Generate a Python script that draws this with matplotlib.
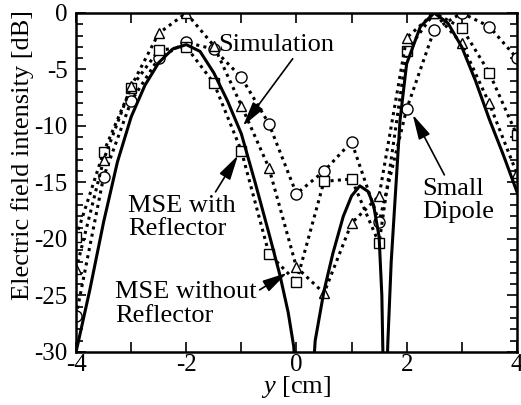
import matplotlib
matplotlib.use('Agg')
import matplotlib.pyplot as plt
import numpy as np

plt.rcParams['font.family'] = 'Liberation Serif'
plt.rcParams['axes.unicode_minus'] = False
plt.rcParams['mathtext.fontset'] = 'custom'
plt.rcParams['mathtext.it'] = 'Liberation Serif:italic'

# measured points every 0.5 cm
y_pos = [-4, -3.5, -3, -2.5, -2, -1.5, -1, -0.5, 0, 0.5, 1, 1.5, 2, 2.5, 3, 3.5, 4]
small_dipole = [-26.8, -14.5, -7.8, -4.0, -2.6, -3.2, -5.7, -9.8, -16.0, -14.0,
                -11.4, -18.5, -8.5, -1.5, 0.0, -1.2, -4.0]
mse_reflector = [-19.8, -12.3, -6.6, -3.3, -3.0, -6.2, -12.2, -21.3, -23.8, -14.9,
                 -14.7, -20.4, -3.4, 0.0, -1.3, -5.3, -10.8]
mse_no_reflector = [-22.7, -13.0, -6.5, -1.8, 0.0, -2.9, -8.2, -13.7, -22.5, -24.8,
                    -18.6, -16.2, -2.2, 0.0, -2.7, -8.0, -14.2]

# simulation curve
sim_y = [-4.0, -3.75, -3.5, -3.25, -3.0, -2.75, -2.5, -2.25, -2.0, -1.75, -1.5,
         -1.25, -1.0, -0.75, -0.5, -0.3, -0.15, -0.05, 0.1, 0.3, 0.34, 0.5, 0.66,
         0.85, 1.0, 1.15, 1.3, 1.4, 1.5, 1.55, 1.58, 1.62, 1.66, 1.72, 1.79, 1.88,
         2.0, 2.25, 2.5, 2.75, 3.0, 3.25, 3.5, 3.75, 4.0]
sim_db = [-30.0, -24.5, -18.5, -13.2, -9.2, -6.4, -4.4, -3.2, -2.8, -3.4, -5.3,
          -7.8, -10.7, -15.0, -19.5, -23.2, -26.5, -29.5, -40.0, -32.0, -29.0, -24.6, -21.3,
          -18.0, -16.2, -15.3, -15.8, -17.0, -19.8, -25.0, -33.0, -35.0, -29.0, -22.0, -16.5, -9.5,
          -4.5, -1.2, 0.0, -0.9, -3.0, -6.0, -9.4, -12.5, -15.8]

fig = plt.figure(figsize=(5.21, 4.05), dpi=100)
ax = fig.add_axes([0.146, 0.131, 0.846, 0.837])

dot = (0, (1.0, 1.4))
ax.plot(y_pos, small_dipole, linestyle=dot, lw=2.2, color='k', marker='o', ms=8,
        mfc='white', mec='k', mew=1.0)
ax.plot(y_pos, mse_reflector, linestyle=dot, lw=2.2, color='k', marker='s', ms=7,
        mfc='white', mec='k', mew=1.0)
ax.plot(y_pos, mse_no_reflector, linestyle=dot, lw=2.2, color='k', marker='^', ms=7,
        mfc='white', mec='k', mew=1.0)
ax.plot(sim_y, sim_db, '-', color='k', lw=2.2)

ax.set_xlim(-4, 4)
ax.set_ylim(-30, 0)
ax.set_xticks(np.arange(-4, 5, 1))
ax.set_xticklabels(['-4', '', '-2', '', '0', '', '2', '', '4'])
ax.set_yticks(np.arange(-30, 1, 5))
ax.set_yticks(np.arange(-30, 1, 1), minor=True)
ax.tick_params(which='both', direction='in', top=True, right=True, labelsize=18, width=1.2)
ax.tick_params(axis='x', pad=1.5)
ax.tick_params(axis='y', pad=6)
ax.tick_params(which='major', length=7)
ax.tick_params(which='minor', length=5)
for s in ax.spines.values():
    s.set_linewidth(1.8)

ax.set_xlabel('$y$ [cm]', fontsize=19)
ax.xaxis.set_label_coords(0.5, -0.065)
ax.set_ylabel('Electric field intensity [dB]', fontsize=19)
ax.yaxis.set_label_coords(-0.095, 0.58)

ap = dict(arrowstyle='-|>,head_length=0.8,head_width=0.2', color='k', lw=1.2,
          shrinkA=0, shrinkB=0)
ax.annotate('Simulation', xy=(-0.97, -10.0), xytext=(-1.42, -2.83), fontsize=19,
            ha='left', va='center', arrowprops=dict(ap, relpos=(0.66, 0.0)))
ax.annotate('MSE with\nReflector', xy=(-1.06, -12.6), xytext=(-3.06, -18.1), fontsize=19,
            ha='left', va='center', linespacing=1.1,
            arrowprops=dict(ap, relpos=(0.79, 0.97)))
ax.annotate('MSE without\nReflector', xy=(-0.17, -23.0), xytext=(-3.29, -25.75), fontsize=19,
            ha='left', va='center', linespacing=1.1,
            arrowprops=dict(ap, relpos=(1.0, 0.77)))
ax.annotate('Small\nDipole', xy=(2.11, -9.0), xytext=(2.28, -16.6), fontsize=19,
            ha='left', va='center', linespacing=1.1,
            arrowprops=dict(ap, relpos=(0.33, 1.0)))

fig.savefig('out.png', dpi=100)
